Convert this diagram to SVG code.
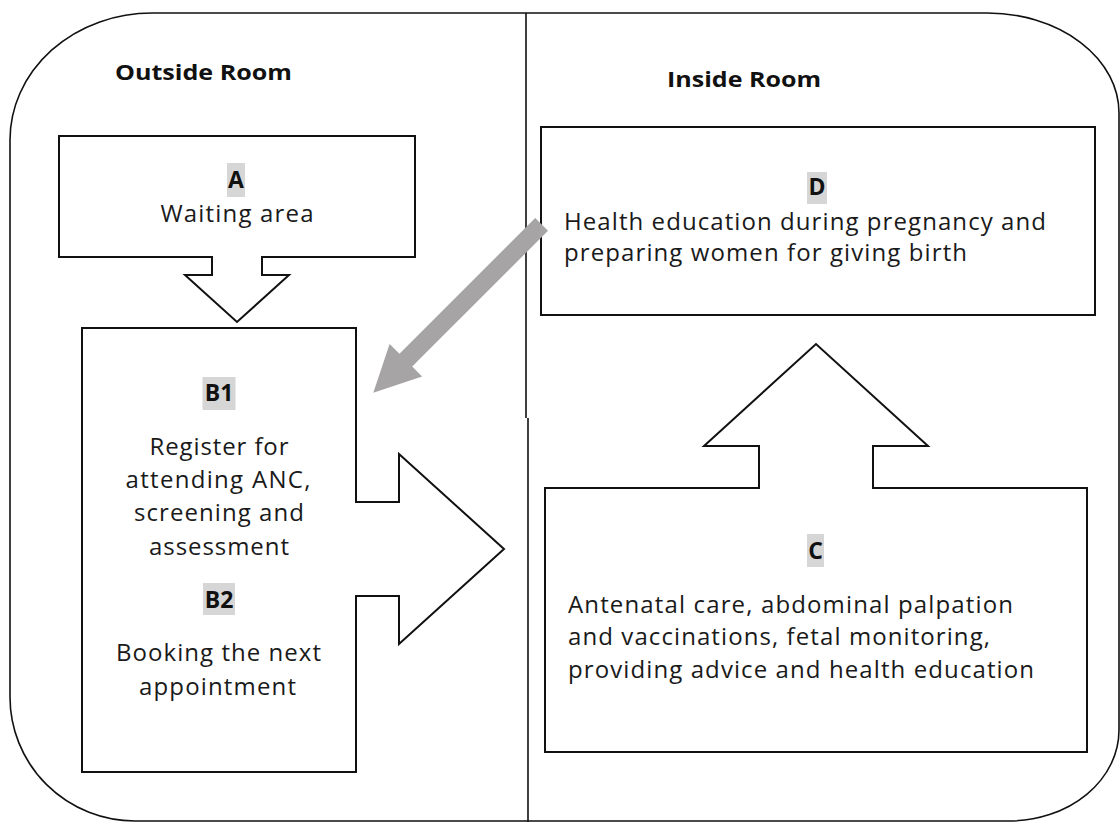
<svg xmlns="http://www.w3.org/2000/svg" width="1120" height="822" viewBox="0 0 1120 822">
<style>
.frame{fill:none;stroke:#111;stroke-width:1.6}
.box{fill:#fff;stroke:#111;stroke-width:2;stroke-linejoin:miter}
.hl{fill:#d6d6d6}
.lbl{font-family:"Open Sans","Liberation Sans",sans-serif;font-weight:700;font-size:23px;fill:#111;text-anchor:middle}
.head{font-family:"Open Sans","Liberation Sans",sans-serif;font-weight:700;font-size:22px;fill:#111}
.txt{font-family:"Open Sans","Liberation Sans",sans-serif;font-size:24px;fill:#1a1a1a}
.c{text-anchor:middle}
.flow{fill:#a6a4a4}
</style>
<rect width="1120" height="822" fill="#fff"/>
<g id="room">
<path class="frame" d="M152,13 H987 A132,100 0 0 1 1119,113 V730 A110,91 0 0 1 1009,821 H135 A125,124 0 0 1 10,697 V140 A142,127 0 0 1 152,13 Z"/>
<path class="frame" d="M526,13 V418 M528,418 V822"/>
<text class="head" x="115" y="80" textLength="177" lengthAdjust="spacingAndGlyphs">Outside Room</text>
<text class="head" x="667" y="87" textLength="154" lengthAdjust="spacingAndGlyphs">Inside Room</text>
</g>
<g id="node-A">
<path class="box" d="M59,136 H415 V257 H262 V275 H289 L237,322 L185,275 H212 V257 H59 Z"/>
<rect class="hl" x="227" y="163" width="18" height="34"/>
<text class="lbl" x="236" y="188">A</text>
<text class="txt c" x="237" y="222" textLength="153">Waiting area</text>
</g>
<g id="node-B">
<path class="box" d="M82,328 H356 V502 H399 V454 L504,549 L399,644 V596 H356 V772 H82 Z"/>
<rect class="hl" x="202.5" y="377" width="33" height="33"/>
<text class="lbl" x="219" y="401">B1</text>
<text class="txt c" x="219" y="455" textLength="139">Register for</text>
<text class="txt c" x="218" y="488" textLength="185">attending ANC,</text>
<text class="txt c" x="219" y="521" textLength="170">screening and</text>
<text class="txt c" x="219" y="555" textLength="140">assessment</text>
<rect class="hl" x="203" y="583" width="32" height="32"/>
<text class="lbl" x="219" y="608">B2</text>
<text class="txt c" x="218.5" y="661" textLength="205">Booking the next</text>
<text class="txt c" x="217.5" y="695" textLength="157">appointment</text>
</g>
<g id="node-D">
<rect class="box" x="541" y="127" width="554" height="188"/>
<rect class="hl" x="807" y="172" width="20" height="32"/>
<text class="lbl" x="817" y="195">D</text>
<text class="txt" x="564" y="230" textLength="482">Health education during pregnancy and</text>
<text class="txt" x="564" y="261" textLength="403">preparing women for giving birth</text>
</g>
<g id="node-C">
<path class="box" d="M545,488 H759 V446 H704 L816,344 L928,446 H873 V488 H1087 V752 H545 Z"/>
<rect class="hl" x="807" y="534" width="17" height="33"/>
<text class="lbl" x="815.5" y="559">C</text>
<text class="txt" x="568" y="613" textLength="445">Antenatal care, abdominal palpation</text>
<text class="txt" x="568" y="645" textLength="422">and vaccinations, fetal monitoring,</text>
<text class="txt" x="568" y="678" textLength="466">providing advice and health education</text>
</g>
<g id="connectors">
<polygon class="flow" points="373.3,392.7 422.1,376.4 412.2,366.5 548,230.8 535.2,218 399.5,353.8 389.6,343.9"/>
</g>
</svg>
